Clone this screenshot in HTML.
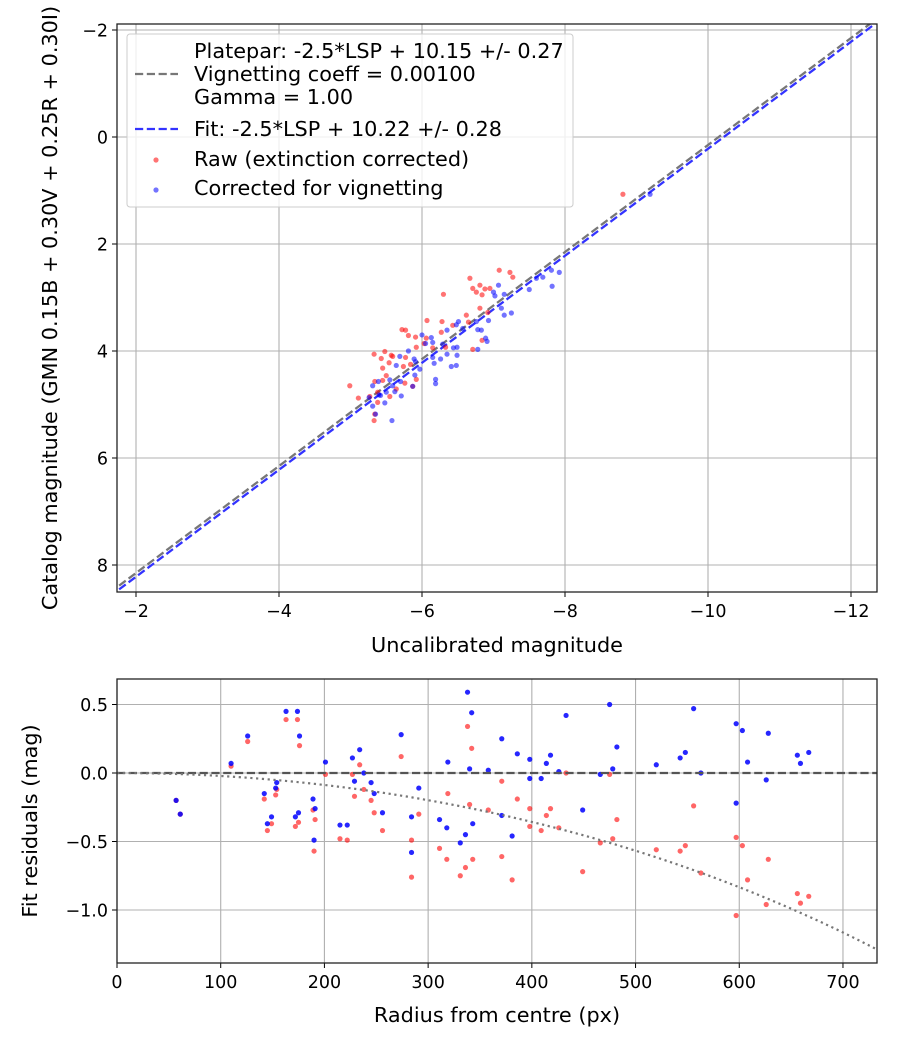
<!DOCTYPE html>
<html><head><meta charset="utf-8"><style>
html,body{margin:0;padding:0;background:#fff;}
svg{display:block;font-family:"DejaVu Sans","Liberation Sans",sans-serif;}
</style></head><body>
<svg id="chart" width="900" height="1050" viewBox="0 0 900 1050"></svg>
<script>
// ---- Top chart data ----
const rawX = [-7.08,-7.23,-7.27,-6.67,-6.71,-6.81,-6.76,-6.84,-6.88,-6.95,-6.30,-6.81,-6.62,-6.92,-6.07,-6.28,-6.65,-6.43,-6.27,-5.72,-5.77,-5.81,-5.91,-6.06,-6.03,-6.33,-6.71,-6.84,-5.48,-5.33,-5.57,-5.59,-5.43,-5.77,-5.54,-5.45,-5.92,-6.15,-5.74,-5.84,-5.50,-4.99,-5.34,-5.45,-5.76,-5.92,-5.87,-5.11,-5.38,-5.27,-5.55,-5.38,-5.34,-5.33,-5.64,-8.81];
const rawY = [2.49,2.53,2.62,2.64,2.83,2.77,2.90,2.95,2.84,2.83,2.94,3.20,3.33,3.28,3.43,3.45,3.46,3.52,3.65,3.60,3.61,3.71,3.74,3.76,3.86,3.93,3.97,3.80,4.01,4.06,4.08,4.10,4.14,4.12,4.22,4.32,3.93,3.94,4.29,4.25,4.46,4.65,4.57,4.55,4.60,4.53,4.66,4.88,4.77,4.85,4.85,4.96,5.18,5.30,4.71,1.07];
const corX = [-7.07,-7.00,-7.15,-7.02,-7.60,-7.69,-7.81,-7.92,-7.82,-7.50,-7.11,-7.15,-7.25,-6.93,-6.76,-6.51,-6.48,-6.57,-6.35,-6.78,-6.83,-6.00,-6.13,-6.05,-6.15,-6.29,-6.44,-6.49,-6.89,-6.91,-6.78,-5.81,-5.69,-5.64,-5.89,-5.91,-6.26,-6.49,-6.35,-6.17,-6.41,-6.48,-6.15,-5.90,-5.97,-5.55,-5.39,-5.31,-5.59,-5.70,-5.62,-5.87,-6.19,-6.19,-5.50,-5.40,-5.26,-5.42,-5.31,-5.48,-5.71,-5.35,-5.58,-9.19];
const corY = [2.77,2.90,2.94,2.97,2.64,2.62,2.49,2.53,2.79,2.85,3.20,3.33,3.29,3.43,3.45,3.45,3.51,3.58,3.61,3.60,3.61,3.70,3.75,3.86,3.84,3.87,3.94,3.93,3.76,3.82,3.97,4.00,4.10,4.27,4.15,4.20,4.15,4.08,4.06,4.23,4.29,4.27,4.12,4.45,4.34,4.54,4.57,4.65,4.65,4.57,4.76,4.66,4.53,4.61,4.77,4.82,4.87,4.83,5.03,4.97,4.84,5.18,5.30,1.07];
const plateIntercept = 10.15, fitIntercept = 10.22;
const topXTicks = [-2,-4,-6,-8,-10,-12];
const topYTicks = [-2,0,2,4,6,8];
// ---- Bottom chart data ----
const radius = [57,61,110,126,142,145,149,153,154,163,174,176,172,175,189,191,190,201,215,222,227,234,229,238,245,248,256,274,284,284,291,311,318,319,331,336,338,342,340,343,358,371,371,381,386,398,398,409,414,418,426,433,449,466,475,478,482,520,543,548,556,563,597,597,603,608,626,628,656,659,667];
const resRaw = [-0.2,-0.3,0.05,0.23,-0.19,-0.42,-0.37,-0.16,-0.12,0.39,0.39,0.20,-0.39,-0.36,-0.27,-0.34,-0.57,-0.01,-0.48,-0.49,-0.01,0.06,-0.17,-0.12,-0.20,-0.29,-0.42,0.12,-0.49,-0.76,-0.30,-0.55,-0.63,-0.15,-0.75,-0.69,0.34,0.18,-0.23,-0.63,-0.27,-0.06,-0.61,-0.78,-0.19,-0.26,-0.39,-0.42,-0.31,-0.26,-0.40,0.0,-0.72,-0.51,-0.01,-0.48,-0.34,-0.56,-0.57,-0.53,-0.24,-0.73,-0.47,-1.04,-0.53,-0.78,-0.96,-0.63,-0.88,-0.95,-0.90];
const resCor = [-0.2,-0.3,0.07,0.27,-0.15,-0.37,-0.32,-0.11,-0.07,0.45,0.45,0.27,-0.32,-0.29,-0.19,-0.26,-0.49,0.08,-0.38,-0.38,0.11,0.17,-0.06,0.0,-0.07,-0.15,-0.29,0.28,-0.32,-0.58,-0.11,-0.34,-0.40,0.08,-0.51,-0.45,0.59,0.44,0.03,-0.37,0.02,0.25,-0.31,-0.46,0.14,0.10,-0.04,-0.04,0.07,0.13,0.01,0.42,-0.27,-0.01,0.50,0.03,0.19,0.06,0.11,0.15,0.47,0.0,0.36,-0.22,0.31,0.08,-0.05,0.29,0.13,0.07,0.15];
const vignCoeff = 0.001;
const botXTicks = [0,100,200,300,400,500,600,700];
const botYTicks = [0.5,0.0,-0.5,-1.0];
const botYLabels = ["0.5","0.0","\u22120.5","\u22121.0"];

const NS="http://www.w3.org/2000/svg";
const svg=document.getElementById('chart');
function mk(tag,attrs,parent){const e=document.createElementNS(NS,tag);for(const k in attrs)e.setAttribute(k,attrs[k]);(parent||svg).appendChild(e);return e;}
const TICKFS=17.5, LABFS=20.8, DASH='8.2,3.6';

const T={l:117,r:877,t:24,b:592};
const tx=v=>136+(v-(-2))*(-71.5);
const ty=v=>565+(v-8)*53.5;
const B={l:117,r:877,t:679,b:963};
const bx=v=>117+v*1.0371;
const by=v=>773-v*137;

function grid(g,x1,y1,x2,y2){mk('line',{x1,y1,x2,y2,stroke:'#b0b0b0','stroke-width':1.1},g);}

// ---- TOP ----
const gt=mk('g',{});


const clipT=mk('clipPath',{id:'clipT'},svg);mk('rect',{x:T.l,y:T.t,width:T.r-T.l,height:T.b-T.t},clipT);
const clipB=mk('clipPath',{id:'clipB'},svg);mk('rect',{x:B.l,y:B.t,width:B.r-B.l,height:B.b-B.t},clipB);
topXTicks.forEach(v=>{const x=tx(v);grid(gt,x,T.t,x,T.b);mk('line',{x1:x,y1:T.b,x2:x,y2:T.b+5,stroke:'#000'},gt);
 const t=mk('text',{x:x,y:T.b+25,'font-size':TICKFS,'text-anchor':'middle'},gt);t.textContent=String(v).replace('-','\u2212');
 
 });
topYTicks.forEach(v=>{const y=ty(v);grid(gt,T.l,y,T.r,y);mk('line',{x1:T.l-5,y1:y,x2:T.l,y2:y,stroke:'#000'},gt);
 const t=mk('text',{x:T.l-9,y:y+6.5,'font-size':TICKFS,'text-anchor':'end'},gt);t.textContent=String(v).replace('-','\u2212');
 
 });
const lineG=mk('g',{'clip-path':'url(#clipT)'},gt);
[[plateIntercept,'#777','platepar-line'],[fitIntercept,'#3333ff','fit-line']].forEach(([c,col,nm])=>{
 const xa=-1.5,xb=-13;const l=mk('line',{x1:tx(xa),y1:ty(xa+c),x2:tx(xb),y2:ty(xb+c),stroke:col,'stroke-width':2.3,'stroke-dasharray':DASH},lineG);
 
 });
rawX.forEach((x,i)=>{const c=mk('circle',{cx:tx(x),cy:ty(rawY[i]),r:2.6,fill:'#ff0000','fill-opacity':0.55},lineG);
 
 });
corX.forEach((x,i)=>{const c=mk('circle',{cx:tx(x),cy:ty(corY[i]),r:2.6,fill:'#0000ff','fill-opacity':0.55},lineG);
 
 });
mk('rect',{x:T.l,y:T.t,width:T.r-T.l,height:T.b-T.t,fill:'none',stroke:'#222','stroke-width':1.3},gt);
// legend
const lg=mk('g',{},gt);


mk('rect',{x:127,y:34,width:446,height:173,rx:3,fill:'#fff','fill-opacity':0.8,stroke:'#ccc'},lg);
mk('line',{x1:135,y1:74,x2:178,y2:74,stroke:'#777','stroke-width':2.3,'stroke-dasharray':DASH},lg);
mk('line',{x1:135,y1:129,x2:178,y2:129,stroke:'#3333ff','stroke-width':2.3,'stroke-dasharray':DASH},lg);
mk('circle',{cx:156,cy:160,r:2.6,fill:'#ff0000','fill-opacity':0.55},lg);
mk('circle',{cx:156,cy:190,r:2.6,fill:'#0000ff','fill-opacity':0.55},lg);
[["Platepar: -2.5*LSP + 10.15 +/- 0.27",58],["Vignetting coeff = 0.00100",81],["Gamma = 1.00",104],["Fit: -2.5*LSP + 10.22 +/- 0.28",136],["Raw (extinction corrected)",166],["Corrected for vignetting",195]].forEach(([s,y])=>{
 const t=mk('text',{x:194,y:y,'font-size':LABFS},lg);t.textContent=s;
 
 });
let t=mk('text',{x:497,y:652,'font-size':LABFS,'text-anchor':'middle'});t.textContent='Uncalibrated magnitude';


t=mk('text',{x:0,y:0,'font-size':LABFS,'text-anchor':'middle',transform:'translate(57,308) rotate(-90)'});t.textContent='Catalog magnitude (GMN 0.15B + 0.30V + 0.25R + 0.30I)';



// ---- BOTTOM ----
const gb=mk('g',{});


botXTicks.forEach(v=>{const x=bx(v);grid(gb,x,B.t,x,B.b);mk('line',{x1:x,y1:B.b,x2:x,y2:B.b+5,stroke:'#000'},gb);
 const t=mk('text',{x:x,y:B.b+25,'font-size':TICKFS,'text-anchor':'middle'},gb);t.textContent=String(v);
 
 });
botYTicks.forEach((v,i)=>{const y=by(v);grid(gb,B.l,y,B.r,y);mk('line',{x1:B.l-5,y1:y,x2:B.l,y2:y,stroke:'#000'},gb);
 const t=mk('text',{x:B.l-9,y:y+6.5,'font-size':TICKFS,'text-anchor':'end'},gb);t.textContent=botYLabels[i];
 
 });
const bg=mk('g',{'clip-path':'url(#clipB)'},gb);
radius.forEach((r,i)=>{const c=mk('circle',{cx:bx(r),cy:by(resRaw[i]),r:2.6,fill:'#ff0000','fill-opacity':0.6},bg);
 
 });
radius.forEach((r,i)=>{const c=mk('circle',{cx:bx(r),cy:by(resCor[i]),r:2.6,fill:'#0000ff','fill-opacity':0.85},bg);
 
 });
const zl=mk('line',{x1:B.l,y1:by(0),x2:B.r,y2:by(0),stroke:'#555','stroke-width':2.3,'stroke-dasharray':DASH},bg);


let pts=[];for(let r=0;r<=735;r+=5){pts.push(bx(r)+','+by(10*Math.log10(Math.cos(vignCoeff*r))));}
const vc=mk('polyline',{points:pts.join(' '),fill:'none',stroke:'#777','stroke-width':2.2,'stroke-dasharray':'2.2,3.6'},bg);


mk('rect',{x:B.l,y:B.t,width:B.r-B.l,height:B.b-B.t,fill:'none',stroke:'#222','stroke-width':1.3},gb);
t=mk('text',{x:497,y:1022,'font-size':LABFS,'text-anchor':'middle'});t.textContent='Radius from centre (px)';


t=mk('text',{x:0,y:0,'font-size':LABFS,'text-anchor':'middle',transform:'translate(37,821) rotate(-90)'});t.textContent='Fit residuals (mag)';


</script>
</body></html>
